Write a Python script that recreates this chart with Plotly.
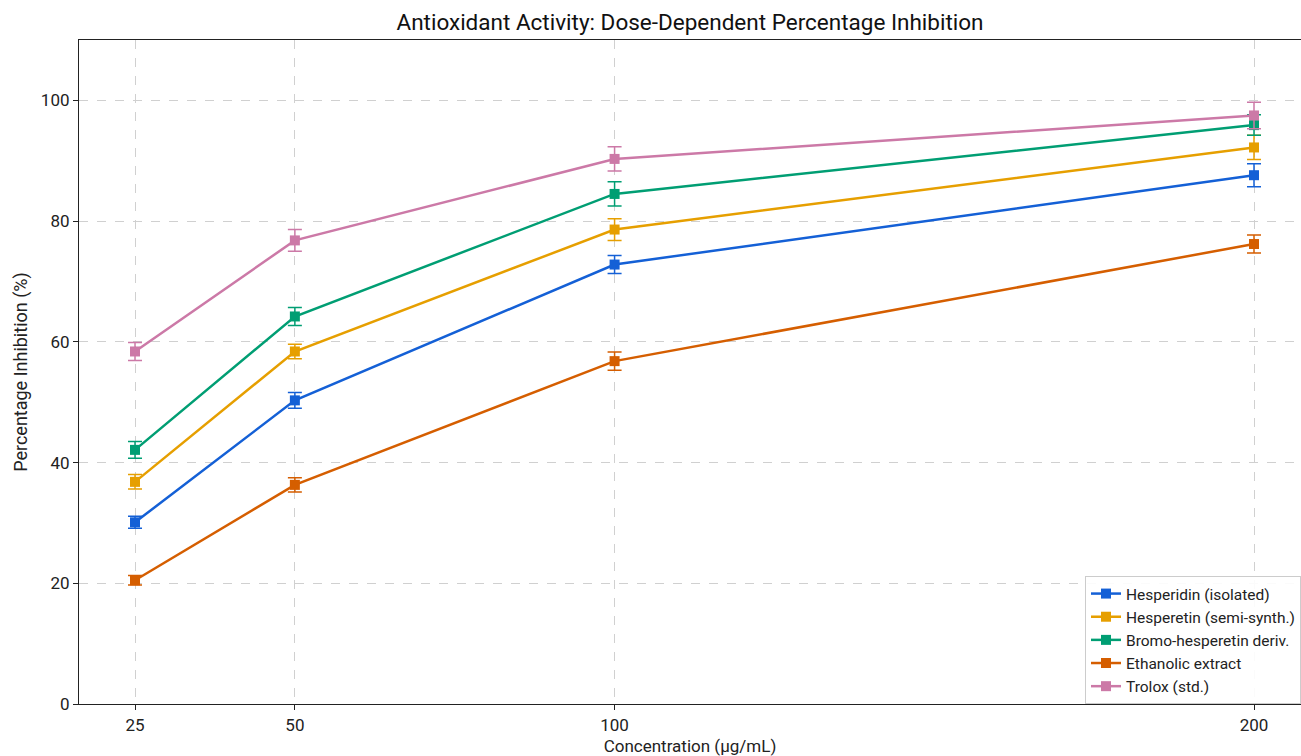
import plotly.graph_objects as go

concentrations = [25, 50, 100, 200]
series_names = ["Hesperidin (isolated)", "Hesperetin (semi-synth.)", "Bromo-hesperetin deriv.",
                "Ethanolic extract", "Trolox (std.)"]
hesperidin = [30.1, 50.3, 72.8, 87.6]
hesperidin_err = [1.0, 1.3, 1.5, 1.9]
hesperetin = [36.8, 58.4, 78.6, 92.2]
hesperetin_err = [1.2, 1.2, 1.8, 2.0]
bromo = [42.1, 64.2, 84.5, 95.9]
bromo_err = [1.4, 1.5, 2.0, 1.7]
ethanolic = [20.5, 36.3, 56.8, 76.2]
ethanolic_err = [0.8, 1.2, 1.5, 1.5]
trolox = [58.4, 76.8, 90.3, 97.5]
trolox_err = [1.5, 1.8, 2.0, 2.2]
colors = ["#1460d6", "#e69f00", "#009e73", "#d55e00", "#cc79a7"]

values = [hesperidin, hesperetin, bromo, ethanolic, trolox]
errors = [hesperidin_err, hesperetin_err, bromo_err, ethanolic_err, trolox_err]

FONT = "Roboto, 'Open Sans', sans-serif"

fig = go.Figure()
for name, y, e, c in zip(series_names, values, errors, colors):
    fig.add_trace(go.Scatter(
        x=concentrations, y=y, name=name, mode="lines+markers",
        line=dict(color=c, width=2.5),
        marker=dict(symbol="square", size=10, color=c),
        error_y=dict(type="data", array=e, visible=True, color=c, thickness=1.5, width=7),
    ))

grid = dict(showgrid=True, gridcolor="#d0d0d0", griddash="dash", gridwidth=1)
fig.update_layout(
    width=1301, height=756,
    margin=dict(l=79, r=0, t=40, b=52),
    plot_bgcolor="white", paper_bgcolor="white",
    font=dict(family=FONT, size=17, color="#222"),
    title=dict(text="Antioxidant Activity: Dose-Dependent Percentage Inhibition",
               x=0.5, xanchor="center", xref="paper", yref="container", y=0.971, yanchor="middle",
               font=dict(size=22.5, color="#111")),
    legend=dict(x=1, y=0, xanchor="right", yanchor="bottom",
                bordercolor="#cccccc", borderwidth=1, bgcolor="rgba(255,255,255,0.9)",
                font=dict(size=15.5, color="#222"), tracegroupgap=2),
    xaxis=dict(range=[16.24, 207.35], tickvals=concentrations, ticks="outside", ticklen=5,
               tickcolor="#222", showline=True, linecolor="#222", linewidth=1.2, mirror=True,
               zeroline=False,
               title=dict(text="Concentration (µg/mL)", standoff=8, font=dict(size=17)),
               **grid),
    yaxis=dict(range=[0, 110], tickvals=[0, 20, 40, 60, 80, 100], ticks="outside", ticklen=5,
               tickcolor="#222", showline=True, linecolor="#222", linewidth=1.2, mirror=True,
               zeroline=False,
               title=dict(text="Percentage Inhibition (%)", standoff=8, font=dict(size=18)),
               **grid),
)

fig.write_html("out.html", config={"displayModeBar": False},
               post_script="document.body.style.margin='0';")
